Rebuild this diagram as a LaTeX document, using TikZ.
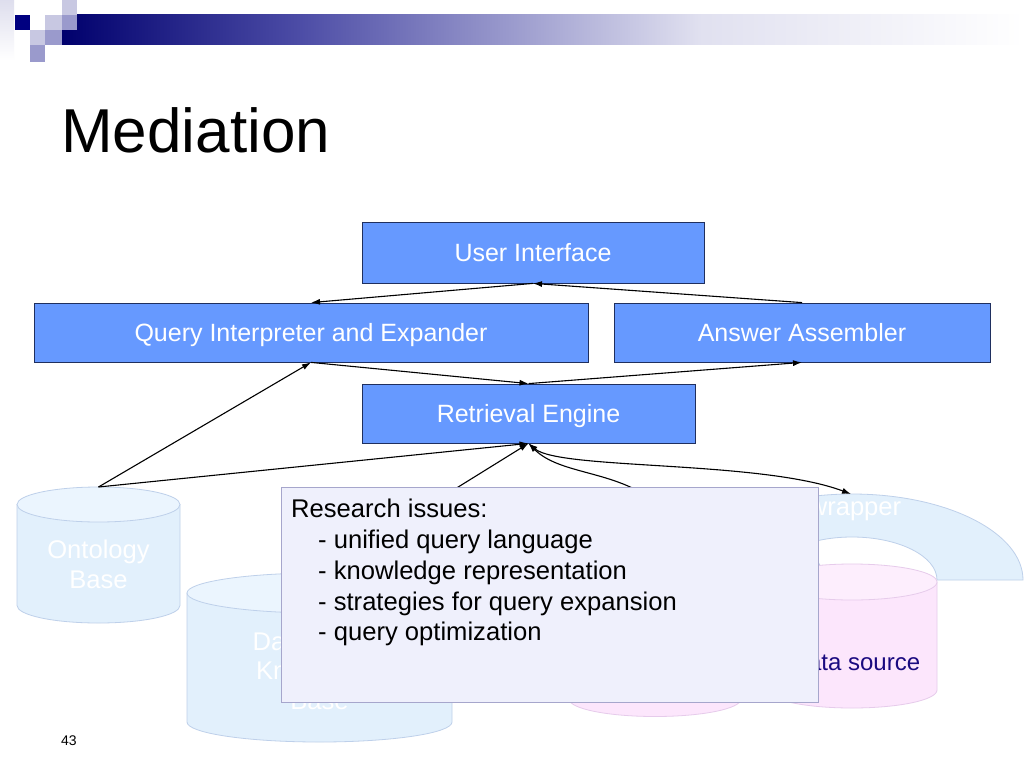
\documentclass[tikz,border=0pt]{standalone}
\usepackage{fontspec}
\setmainfont{Liberation Sans}
\usetikzlibrary{arrows.meta}
\definecolor{boxblue}{HTML}{6699FF}
\definecolor{boxedge}{HTML}{1F2F5F}
\definecolor{cylfill}{HTML}{E2F0FC}
\definecolor{cyltop}{HTML}{EBF5FE}
\definecolor{cyledge}{HTML}{BED0EA}
\definecolor{pinkfill}{HTML}{FCE6FC}
\definecolor{pinktop}{HTML}{FDEEFD}
\definecolor{pinkedge}{HTML}{E6CBEB}
\definecolor{notefill}{HTML}{EFF0FC}
\definecolor{noteedge}{HTML}{A6A6CC}
\definecolor{hdrnavy}{HTML}{000080}
\definecolor{sqlight}{HTML}{C8C8E2}
\definecolor{sqmid}{HTML}{9A9ACC}
\definecolor{dstext}{HTML}{1A0A80}
\begin{document}
\begin{tikzpicture}[x=1pt,y=-1pt,
  blk/.style={draw=boxedge, line width=0.8pt, fill=boxblue, text=white,
    font=\fontsize{25}{29}\selectfont, inner sep=0pt, text height=17.9pt, text depth=0pt},
  arr/.style={-{Latex[length=9pt,width=6pt]}, line width=1.1pt, black},
  cylbody/.style={draw=cyledge, line width=0.8pt, fill=cylfill},
  cyltopst/.style={draw=cyledge, line width=0.8pt, fill=cyltop},
  pinkbody/.style={draw=pinkedge, line width=0.8pt, fill=pinkfill},
  pinktopst/.style={draw=pinkedge, line width=0.8pt, fill=pinktop},
  wrapst/.style={draw=cyledge, line width=0.8pt, fill=cylfill},
  cyltext/.style={anchor=base, inner sep=0pt, text=white, font=\fontsize{25.6}{30}\selectfont},
  notetext/.style={anchor=base west, inner sep=0pt, text=black, font=\fontsize{25.6}{30}\selectfont}
]
\useasboundingbox (0,0) rectangle (1024,768);
\fill[white] (0,0) rectangle (1024,768);

% header decoration
\shade[top color=sqlight!60, bottom color=white] (0,0) rectangle (14,60);
\shade[left color=hdrnavy!85!black, right color=hdrnavy!70!white] (62,15) rectangle (300,45);
\shade[left color=hdrnavy!70!white, right color=hdrnavy!12!white] (299.5,15) rectangle (700,45);
\shade[left color=hdrnavy!12!white, right color=white] (699.5,15) rectangle (1024,45);
\fill[hdrnavy] (15,15) rectangle (30,30);
\fill[sqlight] (45,15) rectangle (62,30);
\fill[sqlight] (62,0) rectangle (77,15);
\fill[sqmid] (62,15) rectangle (77,30);
\fill[sqlight] (30,30) rectangle (45,45);
\fill[sqmid] (45,30) rectangle (62,45);
\fill[sqmid] (30,45) rectangle (45,62);

% title
\node[anchor=base west, inner sep=0pt, font=\fontsize{62}{70}\selectfont] (title) at (61,152) {Mediation};

% boxes
\node[blk, minimum width=342pt, minimum height=61pt] (ui) at (533,252.5) {User Interface};
\node[blk, minimum width=554pt, minimum height=59pt] (qie) at (311,332.5) {Query Interpreter and Expander};
\node[blk, minimum width=376pt, minimum height=59pt] (aa) at (802,332.5) {Answer Assembler};
\node[blk, minimum width=333pt, minimum height=59pt] (re) at (528.5,413.5) {Retrieval Engine};

% ontology base cylinder
\draw[cylbody] (17,504.5) -- (17,605.5) arc[start angle=180, end angle=0, x radius=81.5, y radius=17.5] -- (180,504.5) -- cycle;
\draw[cyltopst] (98.5,504.5) ellipse [x radius=81.5, y radius=17.5];
\node[cyltext] (ont1) at (98.5,558) {Ontology};
\node[cyltext] (ont2) at (98.5,588) {Base};
\coordinate (ontTop) at (98.5,487);

% knowledge base cylinder
\draw[cylbody] (187,593) -- (187,722) arc[start angle=180, end angle=0, x radius=132.5, y radius=20] -- (452,593) -- cycle;
\draw[cyltopst] (319.5,593) ellipse [x radius=132.5, y radius=20];
\node[cyltext] (kb1) at (319.5,650) {Database \&};
\node[cyltext] (kb2) at (319.5,679) {Knowledge};
\node[cyltext] (kb3) at (319.5,709) {Base};
\coordinate (kbTop) at (319.5,573);

% wrapper 1 and data source 1
\draw[wrapst] (826,588) arc[start angle=0, end angle=-180, x radius=171, y radius=86] -- (569,588) arc[start angle=180, end angle=360, x radius=86, y radius=43] -- cycle;
\draw[pinkbody] (569,590) -- (569,699) arc[start angle=180, end angle=0, x radius=86, y radius=17.5] -- (741,590) -- cycle;
\draw[pinktopst] (655,590) ellipse [x radius=86, y radius=17.5];
\coordinate (w1Top) at (655,502);

% wrapper 2 and data source 2
\draw[wrapst] (1023,580) arc[start angle=0, end angle=-180, x radius=171, y radius=86] -- (767,580) arc[start angle=180, end angle=360, x radius=85, y radius=43] -- cycle;
\node[cyltext] (wr2) at (855,515) {wrapper};
\draw[pinkbody] (767,582) -- (767,690) arc[start angle=180, end angle=0, x radius=85, y radius=18] -- (937,582) -- cycle;
\draw[pinktopst] (852,582) ellipse [x radius=85, y radius=18];
\node[cyltext, text=dstext, font=\fontsize{24}{28}\selectfont] (ds2) at (855.5,670) {Data source};
\coordinate (w2Top) at (851,494);

% connectors
\draw[arr] (ui.south) -- (qie.north);
\draw[arr] (aa.north) -- (ui.south);
\draw[arr] (qie.south) -- (re.north);
\draw[arr] (re.north) -- (aa.south);
\draw[arr] (ontTop) -- (qie.south);
\draw[arr] (ontTop) -- (re.south);
\draw[arr] (kbTop) -- (re.south);
\draw[arr] (w1Top) .. controls (615,470) and (560,475) .. (re.south);
\draw[{Latex[length=9pt,width=6pt]}-{Latex[length=9pt,width=6pt]}, line width=1.1pt] (re.south) .. controls (560,470) and (760,460) .. (w2Top);

% research note
\node[draw=noteedge, line width=0.8pt, fill=notefill, minimum width=537pt, minimum height=215pt, inner sep=0pt] (note) at (549.5,594.5) {};
\node[notetext] (n1) at (291,517) {Research issues:};
\node[notetext] (n2) at (318,548) {- unified query language};
\node[notetext] (n3) at (318,579) {- knowledge representation};
\node[notetext] (n4) at (318,610) {- strategies for query expansion};
\node[notetext] (n5) at (318,640) {- query optimization};

% page number
\node[anchor=base west, inner sep=0pt, font=\fontsize{14}{16}\selectfont] (pg) at (61,745) {43};
\end{tikzpicture}
\end{document}
